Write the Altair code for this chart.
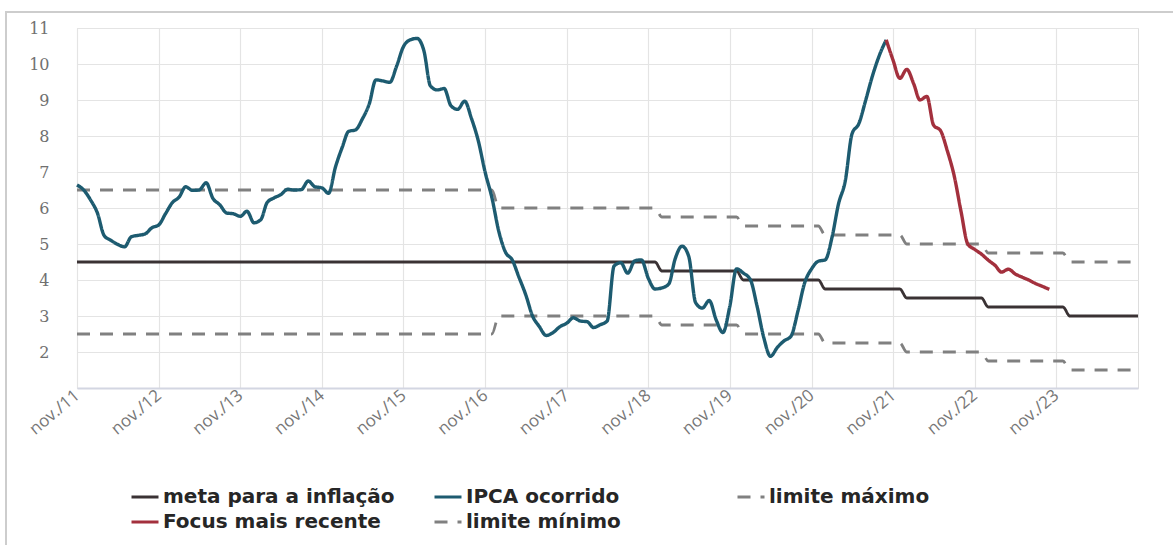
import altair as alt
import pandas as pd

# IPCA acumulado em 12 meses (nov/11 .. out/21)
ipca_2011 = [6.64, 6.50]
ipca_2012 = [6.22, 5.85, 5.24, 5.10, 4.99, 4.92, 5.20, 5.24, 5.28, 5.45, 5.53, 5.84]
ipca_2013 = [6.15, 6.31, 6.59, 6.49, 6.50, 6.70, 6.27, 6.09, 5.86, 5.84, 5.77, 5.91]
ipca_2014 = [5.59, 5.68, 6.15, 6.28, 6.37, 6.52, 6.50, 6.51, 6.75, 6.59, 6.56, 6.41]
ipca_2015 = [7.14, 7.70, 8.13, 8.17, 8.47, 8.89, 9.56, 9.53, 9.49, 9.93, 10.48, 10.67]
ipca_2016 = [10.71, 10.36, 9.39, 9.28, 9.32, 8.84, 8.74, 8.97, 8.48, 7.87, 6.99, 6.29]
ipca_2017 = [5.35, 4.76, 4.57, 4.08, 3.60, 3.00, 2.71, 2.46, 2.54, 2.70, 2.80, 2.95]
ipca_2018 = [2.86, 2.84, 2.68, 2.76, 2.86, 4.39, 4.48, 4.19, 4.53, 4.56, 4.05, 3.75]
ipca_2019 = [3.78, 3.89, 4.58, 4.94, 4.66, 3.37, 3.22, 3.43, 2.89, 2.54, 3.27, 4.31]
ipca_2020 = [4.19, 4.01, 3.30, 2.40, 1.88, 2.13, 2.31, 2.44, 3.14, 3.92, 4.31, 4.52]
ipca_2021 = [4.56, 5.20, 6.10, 6.76, 8.06, 8.35, 8.99, 9.68, 10.25, 10.67]

# Focus mais recente (out/21 .. out/23)
focus = [10.67, 10.10, 9.60, 9.85, 9.45, 9.00, 9.10, 8.30, 8.15, 7.60, 6.90, 5.90,
         5.00, 4.85, 4.72, 4.55, 4.40, 4.22, 4.30, 4.17, 4.08, 4.00, 3.90, 3.82, 3.74]

# Metas por ano (2011 .. 2024)
anos = [2011, 2012, 2013, 2014, 2015, 2016, 2017, 2018, 2019, 2020, 2021, 2022, 2023, 2024]
meta_ano = [4.5, 4.5, 4.5, 4.5, 4.5, 4.5, 4.5, 4.5, 4.25, 4.0, 3.75, 3.5, 3.25, 3.0]
lim_max_ano = [6.5, 6.5, 6.5, 6.5, 6.5, 6.5, 6.0, 6.0, 5.75, 5.5, 5.25, 5.0, 4.75, 4.5]
lim_min_ano = [2.5, 2.5, 2.5, 2.5, 2.5, 2.5, 3.0, 3.0, 2.75, 2.5, 2.25, 2.0, 1.75, 1.5]

x_labels = ["nov./11", "nov./12", "nov./13", "nov./14", "nov./15", "nov./16", "nov./17",
            "nov./18", "nov./19", "nov./20", "nov./21", "nov./22", "nov./23"]

S_META = "meta para a inflação"
S_IPCA = "IPCA ocorrido"
S_MAX = "limite máximo"
S_FOCUS = "Focus mais recente"
S_MIN = "limite mínimo"

rows = []
ipca_all = (ipca_2011 + ipca_2012 + ipca_2013 + ipca_2014 + ipca_2015 + ipca_2016 +
            ipca_2017 + ipca_2018 + ipca_2019 + ipca_2020 + ipca_2021)
ipca_dates = pd.date_range("2011-11-01", periods=len(ipca_all), freq="MS")
for d, v in zip(ipca_dates, ipca_all):
    rows.append({"data": d.strftime("%Y-%m-%d"), "valor": v, "serie": S_IPCA})
focus_dates = pd.date_range("2021-10-01", periods=len(focus), freq="MS")
for d, v in zip(focus_dates, focus):
    rows.append({"data": d.strftime("%Y-%m-%d"), "valor": v, "serie": S_FOCUS})
meta_dates = pd.date_range("2011-11-01", "2024-11-01", freq="MS")
for d in meta_dates:
    i = anos.index(d.year)
    ds = d.strftime("%Y-%m-%d")
    rows.append({"data": ds, "valor": meta_ano[i], "serie": S_META})
    rows.append({"data": ds, "valor": lim_max_ano[i], "serie": S_MAX})
    rows.append({"data": ds, "valor": lim_min_ano[i], "serie": S_MIN})
df = pd.DataFrame(rows)

domain = [S_META, S_IPCA, S_MAX, S_FOCUS, S_MIN]
colors = ["#3a3234", "#1d5b70", "#808080", "#a3303d", "#808080"]
dashes = [[1, 0], [1, 0], [13, 10], [1, 0], [13, 10]]

# map tick dates to the label list
label_expr = ("['" + "','".join(x_labels) + "'][utcFormat(datum.value, '%Y') - 2011]")

x_enc = alt.X(
    "data:T",
    scale=alt.Scale(type="utc",
                    domain=[alt.DateTime(year=2011, month=11, date=1, utc=True),
                            alt.DateTime(year=2024, month=11, date=1, utc=True)]),
    axis=alt.Axis(
        values=[alt.DateTime(year=y, month=11, date=1, utc=True) for y in range(2011, 2024)],
        labelExpr=label_expr, title=None, labelAngle=-40, labelAlign="right",
        labelBaseline="middle", labelPadding=5, tickSize=0,
        labelFont="Open Sans", labelFontSize=17, labelColor="#777777",
        domainColor="#d3d6e2", domainWidth=2, gridColor="#e4e4e4", gridWidth=1.2,
        labelOverlap=False, labelBound=False,
    ),
)
y_enc = alt.Y(
    "valor:Q",
    scale=alt.Scale(domain=[1, 11], nice=False, zero=False),
    axis=alt.Axis(values=[2, 3, 4, 5, 6, 7, 8, 9, 10, 11], title=None, tickSize=0,
                  domain=False, labelPadding=28, labelFont="DejaVu Serif",
                  labelFontSize=16, labelColor="#707070", gridColor="#e4e4e4",
                  gridWidth=1.2),
)
color_enc = alt.Color(
    "serie:N",
    scale=alt.Scale(domain=domain, range=colors),
    legend=alt.Legend(
        orient="none", legendX=53, legendY=454, columns=3, direction="horizontal",
        title=None, symbolType="stroke", symbolSize=729, symbolStrokeWidth=3,
        labelFont="DejaVu Sans", labelFontWeight="bold", labelFontSize=20,
        labelColor="#262626", columnPadding=33, rowPadding=0, gridAlign="all",
        labelOffset=3, padding=0, labelLimit=400,
    ),
)
dash_enc = alt.StrokeDash("serie:N", scale=alt.Scale(domain=domain, range=dashes))

frame = alt.Chart(pd.DataFrame({"k": [0]})).mark_rect(
    fillOpacity=0, stroke="#cdcdcd", strokeWidth=2
).encode(x=alt.value(-71), x2=alt.value(1120), y=alt.value(-16), y2=alt.value(540))

base = alt.Chart(df)
ref_lines = base.transform_filter(
    alt.FieldOneOfPredicate(field="serie", oneOf=[S_META, S_MAX, S_MIN])
).mark_line(interpolate="monotone", strokeWidth=2.8).encode(
    x=x_enc, y=y_enc, color=color_enc, strokeDash=dash_enc)
data_lines = base.transform_filter(
    alt.FieldOneOfPredicate(field="serie", oneOf=[S_IPCA, S_FOCUS])
).mark_line(interpolate="monotone", strokeWidth=3.4).encode(
    x=x_enc, y=y_enc, color=color_enc, strokeDash=dash_enc)

chart = alt.layer(frame, ref_lines, data_lines).properties(
    width=1061, height=360,
    autosize=alt.AutoSizeParams(type="none"),
    padding={"left": 77, "top": 28, "right": 35, "bottom": 157},
).configure_view(stroke=None).configure(background="white")

chart.save("out.html", embed_options={"renderer": "svg", "actions": False})
